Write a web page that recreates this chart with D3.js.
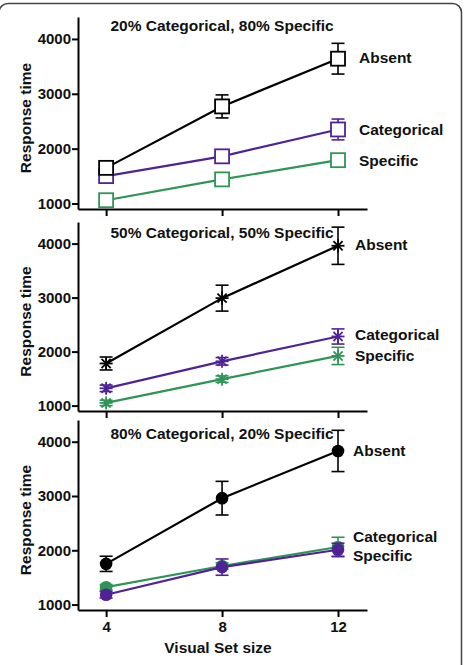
<!DOCTYPE html>
<html>
<head>
<style>
  body { margin: 0; background: #fff; }
  text { font-family: "Liberation Sans", Arial, sans-serif; font-weight: bold; }
</style>
</head>
<body>
<div id="vizDiv"></div>
<script src="https://d3js.org/d3.v7.min.js"></script>
<script>
// set sizes on the x axis
const setSizes = [4, 8, 12];
const yTicks = [1000, 2000, 3000, 4000];
const seriesNames = ["Absent", "Categorical", "Specific"];
const panelTitles = ["20% Categorical, 80% Specific", "50% Categorical, 50% Specific", "80% Categorical, 20% Specific"];

// response times (means) and error bars
const absent20 = [1650, 2770, 3640];
const absentErr20 = [70, 210, 280];
const categorical20 = [1500, 1860, 2350];
const categoricalErr20 = [60, 90, 190];
const specific20 = [1060, 1440, 1790];
const specificErr20 = [50, 60, 70];

const absent50 = [1780, 2990, 3960];
const absentErr50 = [120, 240, 345];
const categorical50 = [1320, 1820, 2280];
const categoricalErr50 = [60, 70, 140];
const specific50 = [1050, 1490, 1920];
const specificErr50 = [50, 60, 160];

const absent80 = [1750, 2960, 3830];
const absentErr80 = [140, 310, 380];
const categorical80 = [1180, 1690, 2010];
const categoricalErr80 = [60, 150, 120];
const specific80 = [1320, 1710, 2060];
const specificErr80 = [50, 60, 180];

const colors = { Absent: "#000000", Categorical: "#4f2396", Specific: "#2f9556" };

const panels = [
  { title: panelTitles[0], marker: "square", top: 17, bottom: 209, titleY: 31,
    labelY: [63, 135, 166], labelX: 359,
    series: [
      { name: "Specific", mean: specific20, err: specificErr20 },
      { name: "Categorical", mean: categorical20, err: categoricalErr20 },
      { name: "Absent", mean: absent20, err: absentErr20 }
    ] },
  { title: panelTitles[1], marker: "star", top: 222, bottom: 411, titleY: 238,
    labelY: [250, 340, 361], labelX: 355,
    series: [
      { name: "Specific", mean: specific50, err: specificErr50 },
      { name: "Categorical", mean: categorical50, err: categoricalErr50 },
      { name: "Absent", mean: absent50, err: absentErr50 }
    ] },
  { title: panelTitles[2], marker: "circle", top: 420, bottom: 610, titleY: 439,
    labelY: [456, 542, 561], labelX: 353,
    series: [
      { name: "Specific", mean: specific80, err: specificErr80 },
      { name: "Categorical", mean: categorical80, err: categoricalErr80 },
      { name: "Absent", mean: absent80, err: absentErr80 }
    ] }
];

const svg = d3.select("#vizDiv")
  .append("svg")
  .attr("width", 465)
  .attr("height", 665);

// rounded frame around the figure (cut at left and bottom)
svg.append("rect")
  .attr("x", -1).attr("y", 3.5)
  .attr("width", 462.5).attr("height", 720)
  .attr("rx", 9)
  .attr("fill", "none")
  .attr("stroke", "#444")
  .attr("stroke-width", 1.5);

const x = d3.scaleLinear().domain([3.03, 13]).range([78, 367]);

panels.forEach((p, pi) => {
  const y = d3.scaleLinear().domain([900, 4400]).range([p.bottom, p.top]);
  const g = svg.append("g");

  // axes
  const yAxis = g.append("g")
    .attr("transform", "translate(78,0)")
    .call(d3.axisLeft(y).tickValues(yTicks).tickFormat(d3.format("d"))
      .tickSize(6).tickSizeOuter(0).tickPadding(1));
  const xAxis = g.append("g")
    .attr("transform", `translate(0,${p.bottom})`)
    .call(d3.axisBottom(x).tickValues(setSizes).tickSize(7).tickSizeOuter(0).tickPadding(4));

  [yAxis, xAxis].forEach(a => {
    a.select(".domain").attr("stroke", "#000").attr("stroke-width", 2);
    a.selectAll(".tick line").attr("stroke", "#000").attr("stroke-width", 2);
    a.selectAll(".tick text").attr("fill", "#111").style("font-size", "15px").style("font-weight", "bold");
  });
  if (pi < 2) xAxis.selectAll(".tick text").remove();

  // y label
  g.append("text")
    .attr("transform", `translate(31,${(p.top + p.bottom) / 2 + 5}) rotate(-90)`)
    .attr("text-anchor", "middle")
    .style("font-size", "15.5px")
    .attr("fill", "#111")
    .text("Response time");

  // title
  g.append("text")
    .attr("x", 222).attr("y", p.titleY)
    .attr("text-anchor", "middle")
    .style("font-size", "15.5px")
    .attr("fill", "#111")
    .text(p.title);

  const line = d3.line().x((d, i) => x(setSizes[i])).y(d => y(d));

  p.series.forEach(s => {
    const c = colors[s.name];
    const sg = g.append("g");
    // error bars
    s.mean.forEach((m, i) => {
      const cx = x(setSizes[i]);
      sg.append("line").attr("x1", cx).attr("x2", cx)
        .attr("y1", y(m - s.err[i])).attr("y2", y(m + s.err[i]))
        .attr("stroke", c).attr("stroke-width", 1.6);
      [m - s.err[i], m + s.err[i]].forEach(v => {
        sg.append("line").attr("x1", cx - 6.5).attr("x2", cx + 6.5)
          .attr("y1", y(v)).attr("y2", y(v))
          .attr("stroke", c).attr("stroke-width", 1.6);
      });
    });
    sg.append("path")
      .datum(s.mean)
      .attr("d", line)
      .attr("fill", "none")
      .attr("stroke", c)
      .attr("stroke-width", 2.2);

    // markers
    s.mean.forEach((m, i) => {
      const cx = x(setSizes[i]), cy = y(m);
      if (p.marker === "square") {
        sg.append("rect").attr("x", cx - 7).attr("y", cy - 7)
          .attr("width", 14).attr("height", 14)
          .attr("fill", "#fff").attr("stroke", c).attr("stroke-width", 1.8);
      } else if (p.marker === "star") {
        [0, 45, 90, 135].forEach(a => {
          const r = 6.5, rad = a * Math.PI / 180;
          sg.append("line")
            .attr("x1", cx - r * Math.cos(rad)).attr("y1", cy - r * Math.sin(rad))
            .attr("x2", cx + r * Math.cos(rad)).attr("y2", cy + r * Math.sin(rad))
            .attr("stroke", c).attr("stroke-width", 1.8);
        });
      } else {
        sg.append("circle").attr("cx", cx).attr("cy", cy).attr("r", 6.3).attr("fill", c);
      }
    });
  });

  // series labels
  seriesNames.forEach((n, i) => {
    g.append("text")
      .attr("x", p.labelX).attr("y", p.labelY[i])
      .style("font-size", "15.5px")
      .attr("fill", "#111")
      .text(n);
  });
});

// x label
svg.append("text")
  .attr("x", 218).attr("y", 653)
  .attr("text-anchor", "middle")
  .style("font-size", "15.5px")
  .attr("fill", "#111")
  .text("Visual Set size");
</script>
</body>
</html>
